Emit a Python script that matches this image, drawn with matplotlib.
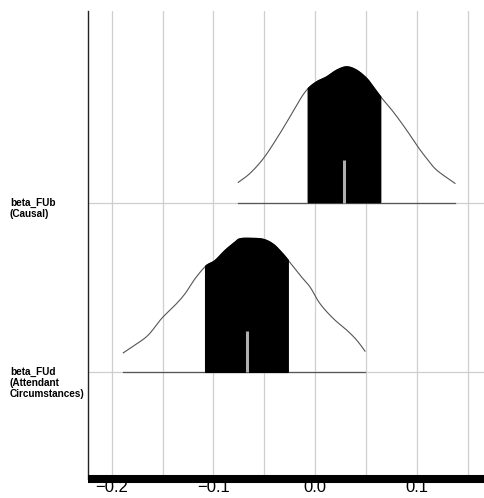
import numpy as np
import matplotlib
matplotlib.use("Agg")
import matplotlib.pyplot as plt
import matplotlib.transforms as mtransforms

plt.rcParams['font.family'] = ['Liberation Sans', 'DejaVu Sans']

# ---------------- data ----------------
param_labels = ["beta_FUb\n(Causal)", "beta_FUd\n(Attendant\nCircumstances)"]
row_pos = [1, 0]

fub_x = [-0.0755, -0.0640, -0.0509, -0.0378, -0.0247, -0.0132, -0.0067, 0.0016,
         0.0114, 0.0212, 0.0311, 0.0409, 0.0507, 0.0572, 0.0645, 0.0769, 0.0901,
         0.0999, 0.1097, 0.1196, 0.1376]
fub_d = [0.119, 0.172, 0.259, 0.376, 0.505, 0.622, 0.672, 0.711,
         0.740, 0.779, 0.799, 0.779, 0.731, 0.681, 0.623, 0.534, 0.426,
         0.338, 0.260, 0.191, 0.113]

fud_x = [-0.1886, -0.1771, -0.1640, -0.1508, -0.1378, -0.1279, -0.1181, -0.1076,
         -0.0984, -0.0886, -0.0788, -0.0739, -0.0640, -0.0509, -0.0411, -0.0328,
         -0.0264, -0.0148, -0.0050, 0.0048, 0.0179, 0.0311, 0.0409, 0.0491]
fud_d = [0.115, 0.161, 0.220, 0.318, 0.395, 0.463, 0.551, 0.625,
         0.658, 0.717, 0.766, 0.786, 0.789, 0.783, 0.754, 0.705,
         0.660, 0.572, 0.503, 0.405, 0.317, 0.249, 0.190, 0.125]

inner_lo = [-0.0067, -0.1076]
inner_hi = [0.0645, -0.0264]
medians = [0.0287, -0.0667]
median_height = [0.250, 0.243]

xticks = [-0.2, -0.1, 0.0, 0.1]
xtick_labels = ["\u22120.2", "\u22120.1", "0.0", "0.1"]
minor_grid = [-0.15, -0.05, 0.05, 0.15]

curves_x = [fub_x, fud_x]
curves_d = [fub_d, fud_d]


def smooth(x, y, n=12):
    """Catmull-Rom rendering of a polyline through the read points."""
    x = np.asarray(x, float); y = np.asarray(y, float)
    P = np.column_stack([x, y])
    P = np.vstack([P[0] - (P[1] - P[0]), P, P[-1] + (P[-1] - P[-2])])
    out = []
    t = np.linspace(0, 1, n, endpoint=False)[:, None]
    for i in range(1, len(P) - 2):
        p0, p1, p2, p3 = P[i - 1], P[i], P[i + 1], P[i + 2]
        seg = 0.5 * ((2 * p1) + (-p0 + p2) * t + (2 * p0 - 5 * p1 + 4 * p2 - p3) * t ** 2
                     + (-p0 + 3 * p1 - 3 * p2 + p3) * t ** 3)
        out.append(seg)
    out.append(P[-2][None, :])
    out = np.vstack(out)
    return out[:, 0], out[:, 1]


# ---------------- figure ----------------
W, H = 485, 498
fig = plt.figure(figsize=(W / 100, H / 100), dpi=100)
ax = fig.add_axes([88 / W, 19 / H, 1 - 88 / W, (479 - 11) / H])

ax.set_xlim(-0.2233, 0.1671)
ax.set_ylim(-0.628, 2.128)

grid_col = '#cfcfcf'
for gx in xticks + minor_grid:
    ax.axvline(gx, color=grid_col, lw=0.9, zorder=0)
for gy in row_pos:
    ax.axhline(gy, color=grid_col, lw=0.9, zorder=0)

for i in range(2):
    sx, sd = smooth(curves_x[i], curves_d[i])
    y0 = row_pos[i]
    lo, hi = inner_lo[i], inner_hi[i]
    # inner filled area
    mask = (sx > lo) & (sx < hi)
    px = np.concatenate([[lo], sx[mask], [hi]])
    pd_ = np.concatenate([[np.interp(lo, sx, sd)], sd[mask], [np.interp(hi, sx, sd)]])
    poly_x = np.concatenate([px, px[::-1]])
    poly_y = np.concatenate([y0 + pd_, np.full(len(px), y0)])
    ax.fill(poly_x, poly_y, facecolor='black', edgecolor='black', lw=1.0, zorder=3)
    # outer density line
    ax.plot(sx, y0 + sd, color='#555555', lw=0.8, zorder=2)
    # baseline
    ax.plot([min(curves_x[i]), max(curves_x[i])], [y0, y0], color='#555555', lw=0.9, zorder=2)
    # median
    ax.plot([medians[i], medians[i]], [y0, y0 + median_height[i]],
            color='#b0b0b0', lw=2.2, solid_capstyle='butt', zorder=4)

ax.set_xticks(xticks)
ax.set_xticklabels(xtick_labels, fontsize=12)
ax.set_yticks(row_pos)
ax.set_yticklabels([])
ax.tick_params(axis='x', length=0, pad=0.8, colors='black')
ax.tick_params(axis='y', length=0)

for s in ['top', 'right']:
    ax.spines[s].set_visible(False)
ax.spines['left'].set_color('#222222')
ax.spines['left'].set_linewidth(1.0)
ax.spines['bottom'].set_color('black')
ax.spines['bottom'].set_linewidth(5.8)
ax.spines['bottom'].set_capstyle('butt')

trans = mtransforms.blended_transform_factory(fig.transFigure, ax.transData)
for lab, y0 in zip(param_labels, row_pos):
    ax.text(10 / W, y0 + 5 / 169.8, lab, transform=trans, ha='left', va='top',
            fontsize=7.2, fontweight='bold', linespacing=1.12, clip_on=False)

fig.savefig('out.png', dpi=100)
